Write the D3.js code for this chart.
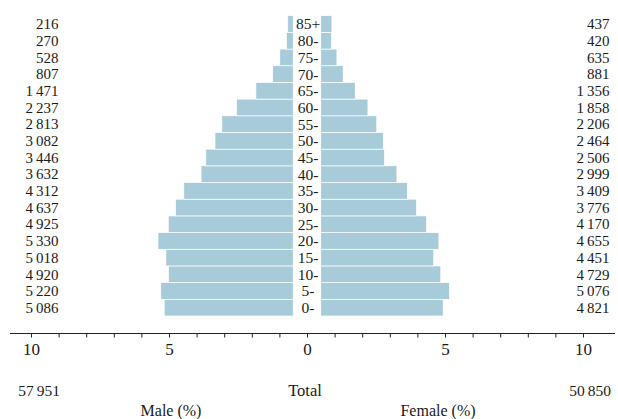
<!DOCTYPE html>
<html>
<head>
<meta charset="utf-8">
<script src="https://cdn.jsdelivr.net/npm/d3@7"></script>
<style>
  html, body { margin: 0; padding: 0; background: #fff; }
  svg { display: block; font-family: "Liberation Serif", "DejaVu Serif", serif; }
</style>
</head>
<body>
<svg id="chart" width="618" height="419"></svg>
<script>
// Age groups, youngest first
const ageGroups = ["0-", "5-", "10-", "15-", "20-", "25-", "30-", "35-", "40-",
                   "45-", "50-", "55-", "60-", "65-", "70-", "75-", "80-", "85+"];
// Head counts per age group
const maleCounts = [5086, 5220, 4920, 5018, 5330, 4925, 4637, 4312, 3632,
                    3446, 3082, 2813, 2237, 1471, 807, 528, 270, 216];
const femaleCounts = [4821, 5076, 4729, 4451, 4655, 4170, 3776, 3409, 2999,
                      2506, 2464, 2206, 1858, 1356, 881, 635, 420, 437];
// Totals shown under the axis
const totalMale = 57951;
const totalFemale = 50850;
// Axis ticks (percent), labelled ones
const axisTicks = d3.range(-10, 11, 1);
const axisLabelled = [-10, -5, 0, 5, 10];

const grandTotal = totalMale + totalFemale;
const rows = ageGroups.map((age, i) => ({
  age,
  male: maleCounts[i],
  female: femaleCounts[i],
  malePct: maleCounts[i] / grandTotal * 100,
  femalePct: femaleCounts[i] / grandTotal * 100
}));

const svg = d3.select("#chart");
const barFill = "#a7cbd8";
const textColor = "#1a1a1a";
const fmt = d3.formatLocale({ decimal: ".", thousands: "\u2009", grouping: [3], currency: ["", ""] }).format(",d");

// Percent scale shared by axis and bar lengths
const x = d3.scaleLinear().domain([-10, 10]).range([31, 583]);
const center = x(0);
const halfGap = 13.8;

const y = d3.scaleBand()
  .domain(ageGroups.slice().reverse())
  .range([15.7, 316])
  .paddingInner(0);

// Male bars (to the left)
svg.append("g").selectAll("rect")
  .data(rows)
  .join("rect")
  .attr("x", d => center - halfGap - (x(d.malePct) - center))
  .attr("y", d => y(d.age))
  .attr("width", d => x(d.malePct) - center)
  .attr("height", y.bandwidth())
  .attr("fill", barFill)
  .attr("stroke", "#fff")
  .attr("stroke-width", 0.7);

// Female bars (to the right)
svg.append("g").selectAll("rect")
  .data(rows)
  .join("rect")
  .attr("x", center + halfGap)
  .attr("y", d => y(d.age))
  .attr("width", d => x(d.femalePct) - center)
  .attr("height", y.bandwidth())
  .attr("fill", barFill)
  .attr("stroke", "#fff")
  .attr("stroke-width", 0.7);

// Age labels in the middle
svg.append("g").selectAll("text")
  .data(rows)
  .join("text")
  .attr("x", center + 1)
  .attr("y", d => y(d.age) + y.bandwidth() / 2)
  .attr("dy", "0.35em")
  .attr("text-anchor", "middle")
  .attr("font-size", 15.5)
  .attr("fill", textColor)
  .text(d => d.age);

// Male counts, left column
svg.append("g").selectAll("text")
  .data(rows)
  .join("text")
  .attr("x", 58.5)
  .attr("y", d => y(d.age) + y.bandwidth() / 2)
  .attr("dy", "0.35em")
  .attr("text-anchor", "end")
  .attr("font-size", 15)
  .attr("fill", textColor)
  .text(d => fmt(d.male));

// Female counts, right column
svg.append("g").selectAll("text")
  .data(rows)
  .join("text")
  .attr("x", 609.5)
  .attr("y", d => y(d.age) + y.bandwidth() / 2)
  .attr("dy", "0.35em")
  .attr("text-anchor", "end")
  .attr("font-size", 15)
  .attr("fill", textColor)
  .text(d => fmt(d.female));

// Bottom axis
const axisY = 333.5;
const axis = d3.axisBottom(x)
  .tickValues(axisTicks)
  .tickSize(4)
  .tickPadding(5)
  .tickFormat(d => axisLabelled.includes(d) ? Math.abs(d) : "");

const gAxis = svg.append("g")
  .attr("transform", `translate(0,${axisY})`)
  .call(axis);
gAxis.select(".domain").remove();
gAxis.selectAll(".tick line").attr("stroke", "#222");
gAxis.selectAll(".tick text")
  .attr("font-family", "Liberation Serif, DejaVu Serif, serif")
  .attr("font-size", 17)
  .attr("fill", textColor);
gAxis.append("line")
  .attr("x1", 10).attr("x2", 615)
  .attr("y1", 0).attr("y2", 0)
  .attr("stroke", "#222")
  .attr("stroke-width", 1);

// Totals and axis titles
const foot = svg.append("g").attr("fill", textColor);
foot.append("text").attr("x", 60).attr("y", 396).attr("text-anchor", "end")
  .attr("font-size", 15.5).text(fmt(totalMale));
foot.append("text").attr("x", center - 2).attr("y", 396).attr("text-anchor", "middle")
  .attr("font-size", 16.5).text("Total");
foot.append("text").attr("x", 611).attr("y", 396).attr("text-anchor", "end")
  .attr("font-size", 15.5).text(fmt(totalFemale));
foot.append("text").attr("x", 171).attr("y", 415.5).attr("text-anchor", "middle")
  .attr("font-size", 16).text("Male (%)");
foot.append("text").attr("x", 438).attr("y", 415.5).attr("text-anchor", "middle")
  .attr("font-size", 16).text("Female (%)");
</script>
</body>
</html>
